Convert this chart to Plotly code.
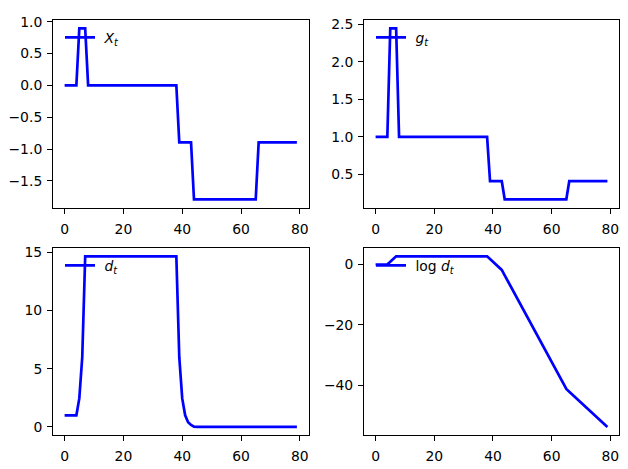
import plotly.graph_objects as go

t = list(range(80))

X_t = ([0.0] * 5 + [0.895] * 3 + [0.0] * 31 + [-0.895] * 5 + [-1.79] * 22 + [-0.895] * 14)

g_t = ([1.0] * 5 + [2.447] * 3 + [1.0] * 31 + [0.409] * 5 + [0.167] * 22 + [0.409] * 14)

d_t = ([1.0] * 5 + [2.447, 5.99] + [14.65] * 32 +
       [5.99, 2.447, 1.0, 0.409, 0.167, 0.0279, 0.0047, 0.0008, 0.0001] + [0.0] * 32)

log_d_t = ([0.0] * 5 + [0.895, 1.79] + [2.685] * 32 +
           [1.79, 0.895, 0.0, -0.895, -1.79,
            -3.58, -5.37, -7.16, -8.95, -10.74, -12.53, -14.32, -16.11, -17.90, -19.69,
            -21.48, -23.27, -25.06, -26.85, -28.64, -30.43, -32.22, -34.01, -35.80, -37.59,
            -39.38, -41.17,
            -42.07, -42.96, -43.86, -44.75, -45.65, -46.54, -47.44, -48.33, -49.23, -50.12,
            -51.02, -51.91, -52.81, -53.70])

series = [
    (X_t, "&nbsp;<i>X</i><sub><i>t</i></sub>", [-1.924, 1.029], [-1.5, -1.0, -0.5, 0.0, 0.5, 1.0]),
    (g_t, "&nbsp;<i>g</i><sub><i>t</i></sub>", [0.053, 2.561], [0.5, 1.0, 1.5, 2.0, 2.5]),
    (d_t, "&nbsp;<i>d</i><sub><i>t</i></sub>", [-0.73, 15.38], [0, 5, 10, 15]),
    (log_d_t, "&nbsp;log <i>d</i><sub><i>t</i></sub>", [-56.52, 5.50], [-40, -20, 0]),
]

W, H = 628, 469
xdoms = [[53 / W, 308.5 / W], [364 / W, 619 / W]]
ydoms = [[1 - 204.5 / H, 1 - 14 / H], [1 - 435 / H, 1 - 245 / H]]

def fmt(v, dec):
    s = f"{v:.{dec}f}"
    return s.replace("-", "\u2212")

fig = go.Figure()
FONT = dict(family="DejaVu Sans", size=13.9, color="black")
for i, (vals, name, yr, yt) in enumerate(series):
    row, col = divmod(i, 2)
    n = "" if i == 0 else str(i + 1)
    legname = "legend" if i == 0 else f"legend{i + 1}"
    fig.add_trace(go.Scatter(x=t, y=vals, mode="lines", name=name,
                             line=dict(color="#0000ff", width=2.7),
                             xaxis="x" + n, yaxis="y" + n, legend=legname))
    dec = 1 if i < 2 else 0
    axcommon = dict(showline=True, linecolor="black", linewidth=1, mirror=True,
                    ticks="outside", ticklen=5, tickwidth=1, tickcolor="black",
                    showgrid=False, zeroline=False, tickfont=FONT)
    fig.layout["xaxis" + n] = dict(domain=xdoms[col], range=[-3.95, 82.95],
                                   tickvals=[0, 20, 40, 60, 80],
                                   ticktext=["0", "20", "40", "60", "80"],
                                   ticklabelstandoff=3,
                                   anchor="y" + n, **axcommon)
    fig.layout["yaxis" + n] = dict(domain=ydoms[row], range=yr,
                                   tickvals=yt, ticktext=[fmt(v, dec) for v in yt],
                                   ticklabelstandoff=2,
                                   anchor="x" + n, **axcommon)
    fig.layout[legname] = dict(x=xdoms[col][0] + 7 / W, y=ydoms[row][1] - 2 / H,
                               xanchor="left", yanchor="top",
                               bgcolor="rgba(0,0,0,0)", borderwidth=0,
                               font=FONT)

fig.update_layout(width=W, height=H, margin=dict(l=0, r=0, t=0, b=0),
                  plot_bgcolor="white", paper_bgcolor="white", showlegend=True)
fig.write_html("out.html")
